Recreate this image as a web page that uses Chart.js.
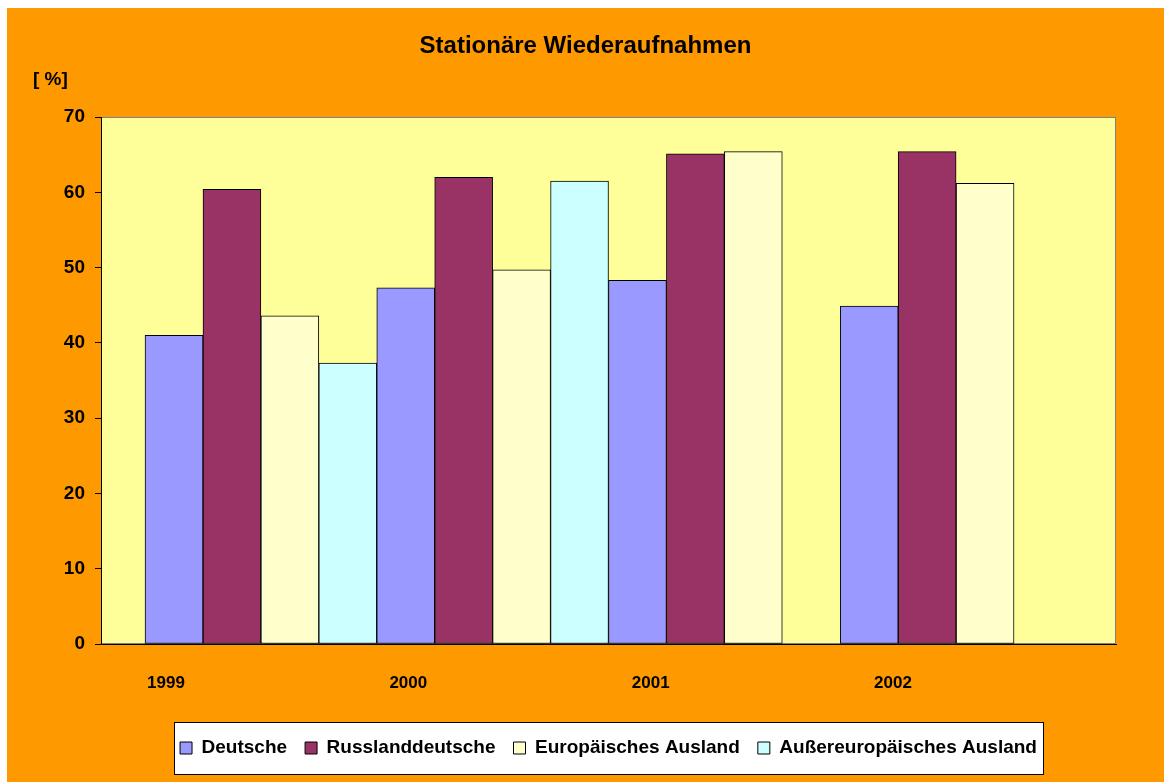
<!DOCTYPE html>
<html>
<head>
<meta charset="utf-8">
<script src="https://cdn.jsdelivr.net/npm/chart.js@4.4.0/dist/chart.umd.min.js"></script>
<style>
  html, body { margin: 0; padding: 0; background: #ffffff; overflow: hidden; }
  #wrap { position: absolute; left: 7px; top: 8px; width: 1157px; height: 774px; }
  canvas { display: block; }
</style>
</head>
<body>
<div id="wrap"><canvas id="c" width="1157" height="774"></canvas></div>
<script>
const chartTitle = 'Stationäre Wiederaufnahmen';
const unitLabel = '[ %]';
const years = ['1999', '2000', '2001', '2002'];
const seriesNames = ['Deutsche', 'Russlanddeutsche', 'Europäisches Ausland', 'Außereuropäisches Ausland'];
const deutsche = [41.0, 47.3, 48.3, 44.9];
const russlanddeutsche = [60.4, 62.0, 65.1, 65.4];
const europaeisch = [43.6, 49.7, 65.4, 61.2];
const aussereuropaeisch = [37.3, 61.5, null, null];
const yTicks = [0, 10, 20, 30, 40, 50, 60, 70];

const seriesValues = [deutsche, russlanddeutsche, europaeisch, aussereuropaeisch];
const seriesColors = ['#9999FF', '#993366', '#FFFFCC', '#CCFFFF'];

const FONT = '"Liberation Sans", Arial, sans-serif';
Chart.defaults.font.family = FONT;
Chart.defaults.color = '#000000';

const backgroundPlugin = {
  id: 'bgPlugin',
  beforeDraw(chart) {
    const ctx = chart.ctx;
    const a = chart.chartArea;
    ctx.save();
    ctx.fillStyle = '#FF9900';
    ctx.fillRect(0, 0, chart.width, chart.height);
    ctx.fillStyle = '#FFFF99';
    ctx.fillRect(a.left, a.top, a.right - a.left, a.bottom - a.top);
    ctx.strokeStyle = '#808080';
    ctx.lineWidth = 1;
    ctx.strokeRect(a.left + 0.5, a.top + 0.5, a.right - a.left - 1, a.bottom - a.top - 1);
    // legend frame
    const lg = chart.legend;
    if (lg && lg.lineWidths && lg.lineWidths.length) {
      const pad = lg.options.labels.padding;
      const occ = lg.lineWidths[0] - pad;
      const cx = (lg.left + lg.right) / 2;
      const fs = lg.options.labels.font.size;
      const cy = lg.top + pad + fs / 2;
      const x0 = Math.round(cx - occ / 2 - 6) + 0.5;
      const x1 = Math.round(cx + occ / 2 + 6) + 0.5;
      ctx.fillStyle = '#FFFFFF';
      ctx.fillRect(x0, Math.round(cy - 26) + 0.5, x1 - x0, 52);
      ctx.strokeStyle = '#000000';
      ctx.strokeRect(x0, Math.round(cy - 26) + 0.5, x1 - x0, 52);
    }
    // unit label
    ctx.fillStyle = '#000000';
    ctx.font = 'bold 19px ' + FONT;
    ctx.textAlign = 'left';
    ctx.textBaseline = 'middle';
    ctx.fillText(unitLabel, a.left - 68, a.top - 37);
    ctx.restore();
  }
};

const datasets = seriesNames.map((name, s) => ({
  label: name,
  data: seriesValues[s].map((v, i) => ({ x: i, y: v })),
  backgroundColor: seriesColors[s],
  borderColor: '#000000',
  borderWidth: 1,
  borderSkipped: false,
  categoryPercentage: 1.0,
  barPercentage: 1.0,
  xAxisID: 'x',
  yAxisID: 'y'
}));

new Chart(document.getElementById('c'), {
  type: 'bar',
  data: { datasets },
  options: {
    responsive: false,
    animation: false,
    layout: { padding: { left: 0, right: 0, top: 0, bottom: 14.5 } },
    plugins: {
      title: {
        display: true,
        text: chartTitle,
        color: '#000000',
        font: { size: 24, weight: 'bold', family: FONT, lineHeight: 1.2 },
        padding: { top: 23.6, bottom: 56.6 }
      },
      legend: {
        display: true,
        position: 'bottom',
        fullSize: false,
        labels: {
          boxWidth: 12,
          boxHeight: 12,
          padding: 18,
          color: '#000000',
          font: { size: 19, weight: 'bold', family: FONT }
        }
      },
      tooltip: { enabled: false }
    },
    scales: {
      x: {
        type: 'linear',
        display: false,
        min: -0.69,
        max: 3.69,
        offset: false,
        afterBuildTicks(scale) {
          scale.ticks = years.map((_, i) => ({ value: i }));
        }
      },
      xLabels: {
        type: 'linear',
        position: 'bottom',
        weight: 1,
        min: -0.268,
        max: 3.92,
        offset: false,
        grid: { display: false, drawTicks: false, offset: false },
        border: { display: true, color: '#000000', width: 1 },
        afterBuildTicks(scale) {
          scale.ticks = years.map((_, i) => ({ value: i }));
        },
        afterFit(scale) { scale.height = 76.5; },
        ticks: {
          padding: 28.8,
          autoSkip: false,
          maxRotation: 0,
          color: '#000000',
          font: { size: 17, weight: 'bold', family: FONT, lineHeight: 1.2 },
          callback: (v) => years[v]
        }
      },
      y: {
        type: 'linear',
        position: 'left',
        min: 0,
        max: 70,
        afterBuildTicks(scale) {
          scale.ticks = yTicks.map(v => ({ value: v }));
        },
        afterFit(scale) { scale.width = 94; },
        grid: { display: true, drawOnChartArea: false, drawTicks: true, tickLength: 6, color: '#000000' },
        border: { display: true, color: '#000000', width: 1 },
        ticks: {
          padding: 10,
          color: '#000000',
          font: { size: 19, weight: 'bold', family: FONT }
        }
      },
      yR: {
        type: 'linear',
        position: 'right',
        display: true,
        grid: { display: false, drawTicks: false },
        border: { display: false },
        ticks: { display: false },
        afterFit(scale) { scale.width = 48; }
      }
    }
  },
  plugins: [backgroundPlugin]
});
</script>
</body>
</html>
